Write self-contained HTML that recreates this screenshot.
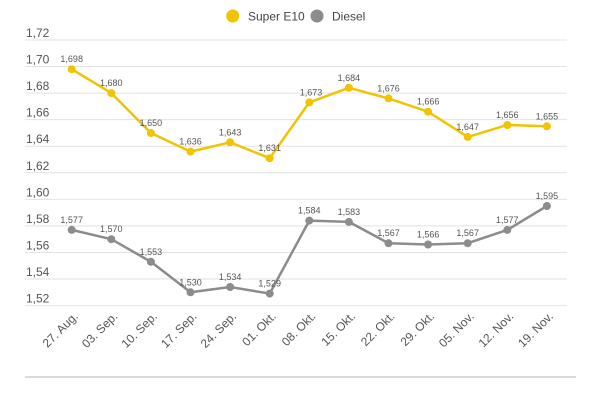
<!DOCTYPE html>
<html><head><meta charset="utf-8"><style>
html,body{margin:0;padding:0;background:#fff;}
svg{display:block;font-family:"Liberation Sans",sans-serif;}
</style></head><body>
<svg width="600" height="400" viewBox="0 0 600 400" xmlns="http://www.w3.org/2000/svg">
<!-- legend -->
<circle cx="232.7" cy="16" r="6.5" fill="#f2c300"/>
<text x="248" y="20.5" font-size="12" fill="#444">Super E10</text>
<circle cx="317" cy="16" r="6.5" fill="#8c8c8c"/>
<text x="332" y="20.5" font-size="12" fill="#444">Diesel</text>
<!-- grid -->
<g stroke="#e2e2e2" stroke-width="1">
<line x1="25" x2="567" y1="40" y2="40"/>
<line x1="25" x2="567" y1="66.56" y2="66.56"/>
<line x1="25" x2="567" y1="93.12" y2="93.12"/>
<line x1="25" x2="567" y1="119.68" y2="119.68"/>
<line x1="25" x2="567" y1="146.24" y2="146.24"/>
<line x1="25" x2="567" y1="172.8" y2="172.8"/>
<line x1="25" x2="567" y1="199.36" y2="199.36"/>
<line x1="25" x2="567" y1="225.92" y2="225.92"/>
<line x1="25" x2="567" y1="252.48" y2="252.48"/>
<line x1="25" x2="567" y1="279.04" y2="279.04"/>
<line x1="25" x2="567" y1="305.6" y2="305.6"/>
</g>
<g font-size="12" fill="#555">
<text x="26" y="37">1,72</text>
<text x="26" y="63.5">1,70</text>
<text x="26" y="90">1,68</text>
<text x="26" y="116.6">1,66</text>
<text x="26" y="143.2">1,64</text>
<text x="26" y="169.8">1,62</text>
<text x="26" y="196.3">1,60</text>
<text x="26" y="222.9">1,58</text>
<text x="26" y="249.5">1,56</text>
<text x="26" y="276">1,54</text>
<text x="26" y="302.6">1,52</text>
</g>
<line x1="25" x2="576" y1="377" y2="377" stroke="#cfcfcf" stroke-width="1.5"/>
<!-- E10 -->
<polyline fill="none" stroke="#f2c300" stroke-width="2.5" stroke-linejoin="round" points="71.7,69.2 111.3,93.1 150.9,133 190.5,151.6 230.1,142.3 269.7,158.2 309.3,102.4 348.9,87.8 388.5,98.4 428.1,111.7 467.7,136.9 507.3,125 546.9,126.3"/>
<g fill="#f2c300">
<circle cx="71.7" cy="69.2" r="4"/><circle cx="111.3" cy="93.1" r="4"/><circle cx="150.9" cy="133" r="4"/><circle cx="190.5" cy="151.6" r="4"/><circle cx="230.1" cy="142.3" r="4"/><circle cx="269.7" cy="158.2" r="4"/><circle cx="309.3" cy="102.4" r="4"/><circle cx="348.9" cy="87.8" r="4"/><circle cx="388.5" cy="98.4" r="4"/><circle cx="428.1" cy="111.7" r="4"/><circle cx="467.7" cy="136.9" r="4"/><circle cx="507.3" cy="125" r="4"/><circle cx="546.9" cy="126.3" r="4"/>
</g>
<!-- Diesel -->
<polyline fill="none" stroke="#8c8c8c" stroke-width="2.5" stroke-linejoin="round" points="71.7,229.9 111.3,239.2 150.9,261.8 190.5,292.3 230.1,287 269.7,293.6 309.3,220.6 348.9,221.9 388.5,243.2 428.1,244.5 467.7,243.2 507.3,229.9 546.9,206"/>
<g fill="#8c8c8c">
<circle cx="71.7" cy="229.9" r="4"/><circle cx="111.3" cy="239.2" r="4"/><circle cx="150.9" cy="261.8" r="4"/><circle cx="190.5" cy="292.3" r="4"/><circle cx="230.1" cy="287" r="4"/><circle cx="269.7" cy="293.6" r="4"/><circle cx="309.3" cy="220.6" r="4"/><circle cx="348.9" cy="221.9" r="4"/><circle cx="388.5" cy="243.2" r="4"/><circle cx="428.1" cy="244.5" r="4"/><circle cx="467.7" cy="243.2" r="4"/><circle cx="507.3" cy="229.9" r="4"/><circle cx="546.9" cy="206" r="4"/>
</g>
<!-- data labels -->
<g font-size="9" fill="#555" text-anchor="middle">
<text x="71.7" y="62">1,698</text><text x="111.3" y="86">1,680</text><text x="150.9" y="126">1,650</text><text x="190.5" y="144.5">1,636</text><text x="230.1" y="135.3">1,643</text><text x="269.7" y="151">1,631</text><text x="311" y="95.4">1,673</text><text x="348.9" y="80.8">1,684</text><text x="388.5" y="91.4">1,676</text><text x="428.1" y="104.7">1,666</text><text x="467.7" y="129.9">1,647</text><text x="507.3" y="118">1,656</text><text x="546.9" y="119.3">1,655</text>
<text x="71.7" y="222.9">1,577</text><text x="111.3" y="232.2">1,570</text><text x="150.9" y="254.8">1,553</text><text x="190.5" y="285.3">1,530</text><text x="230.1" y="280">1,534</text><text x="269.7" y="286.6">1,529</text><text x="309.3" y="213.6">1,584</text><text x="348.9" y="214.9">1,583</text><text x="388.5" y="236.2">1,567</text><text x="428.1" y="237.5">1,566</text><text x="467.7" y="236.2">1,567</text><text x="507.3" y="222.9">1,577</text><text x="546.9" y="199">1,595</text>
</g>
<!-- x labels -->
<g font-size="12" fill="#555" text-anchor="end">
<text transform="translate(78.7,317) rotate(-45)">27. Aug.</text>
<text transform="translate(118.3,317) rotate(-45)">03. Sep.</text>
<text transform="translate(157.9,317) rotate(-45)">10. Sep.</text>
<text transform="translate(197.5,317) rotate(-45)">17. Sep.</text>
<text transform="translate(237.1,317) rotate(-45)">24. Sep.</text>
<text transform="translate(276.7,317) rotate(-45)">01. Okt.</text>
<text transform="translate(316.3,317) rotate(-45)">08. Okt.</text>
<text transform="translate(355.9,317) rotate(-45)">15. Okt.</text>
<text transform="translate(395.5,317) rotate(-45)">22. Okt.</text>
<text transform="translate(435.1,317) rotate(-45)">29. Okt.</text>
<text transform="translate(474.7,317) rotate(-45)">05. Nov.</text>
<text transform="translate(514.3,317) rotate(-45)">12. Nov.</text>
<text transform="translate(553.9,317) rotate(-45)">19. Nov.</text>
</g>
</svg>
</body></html>
